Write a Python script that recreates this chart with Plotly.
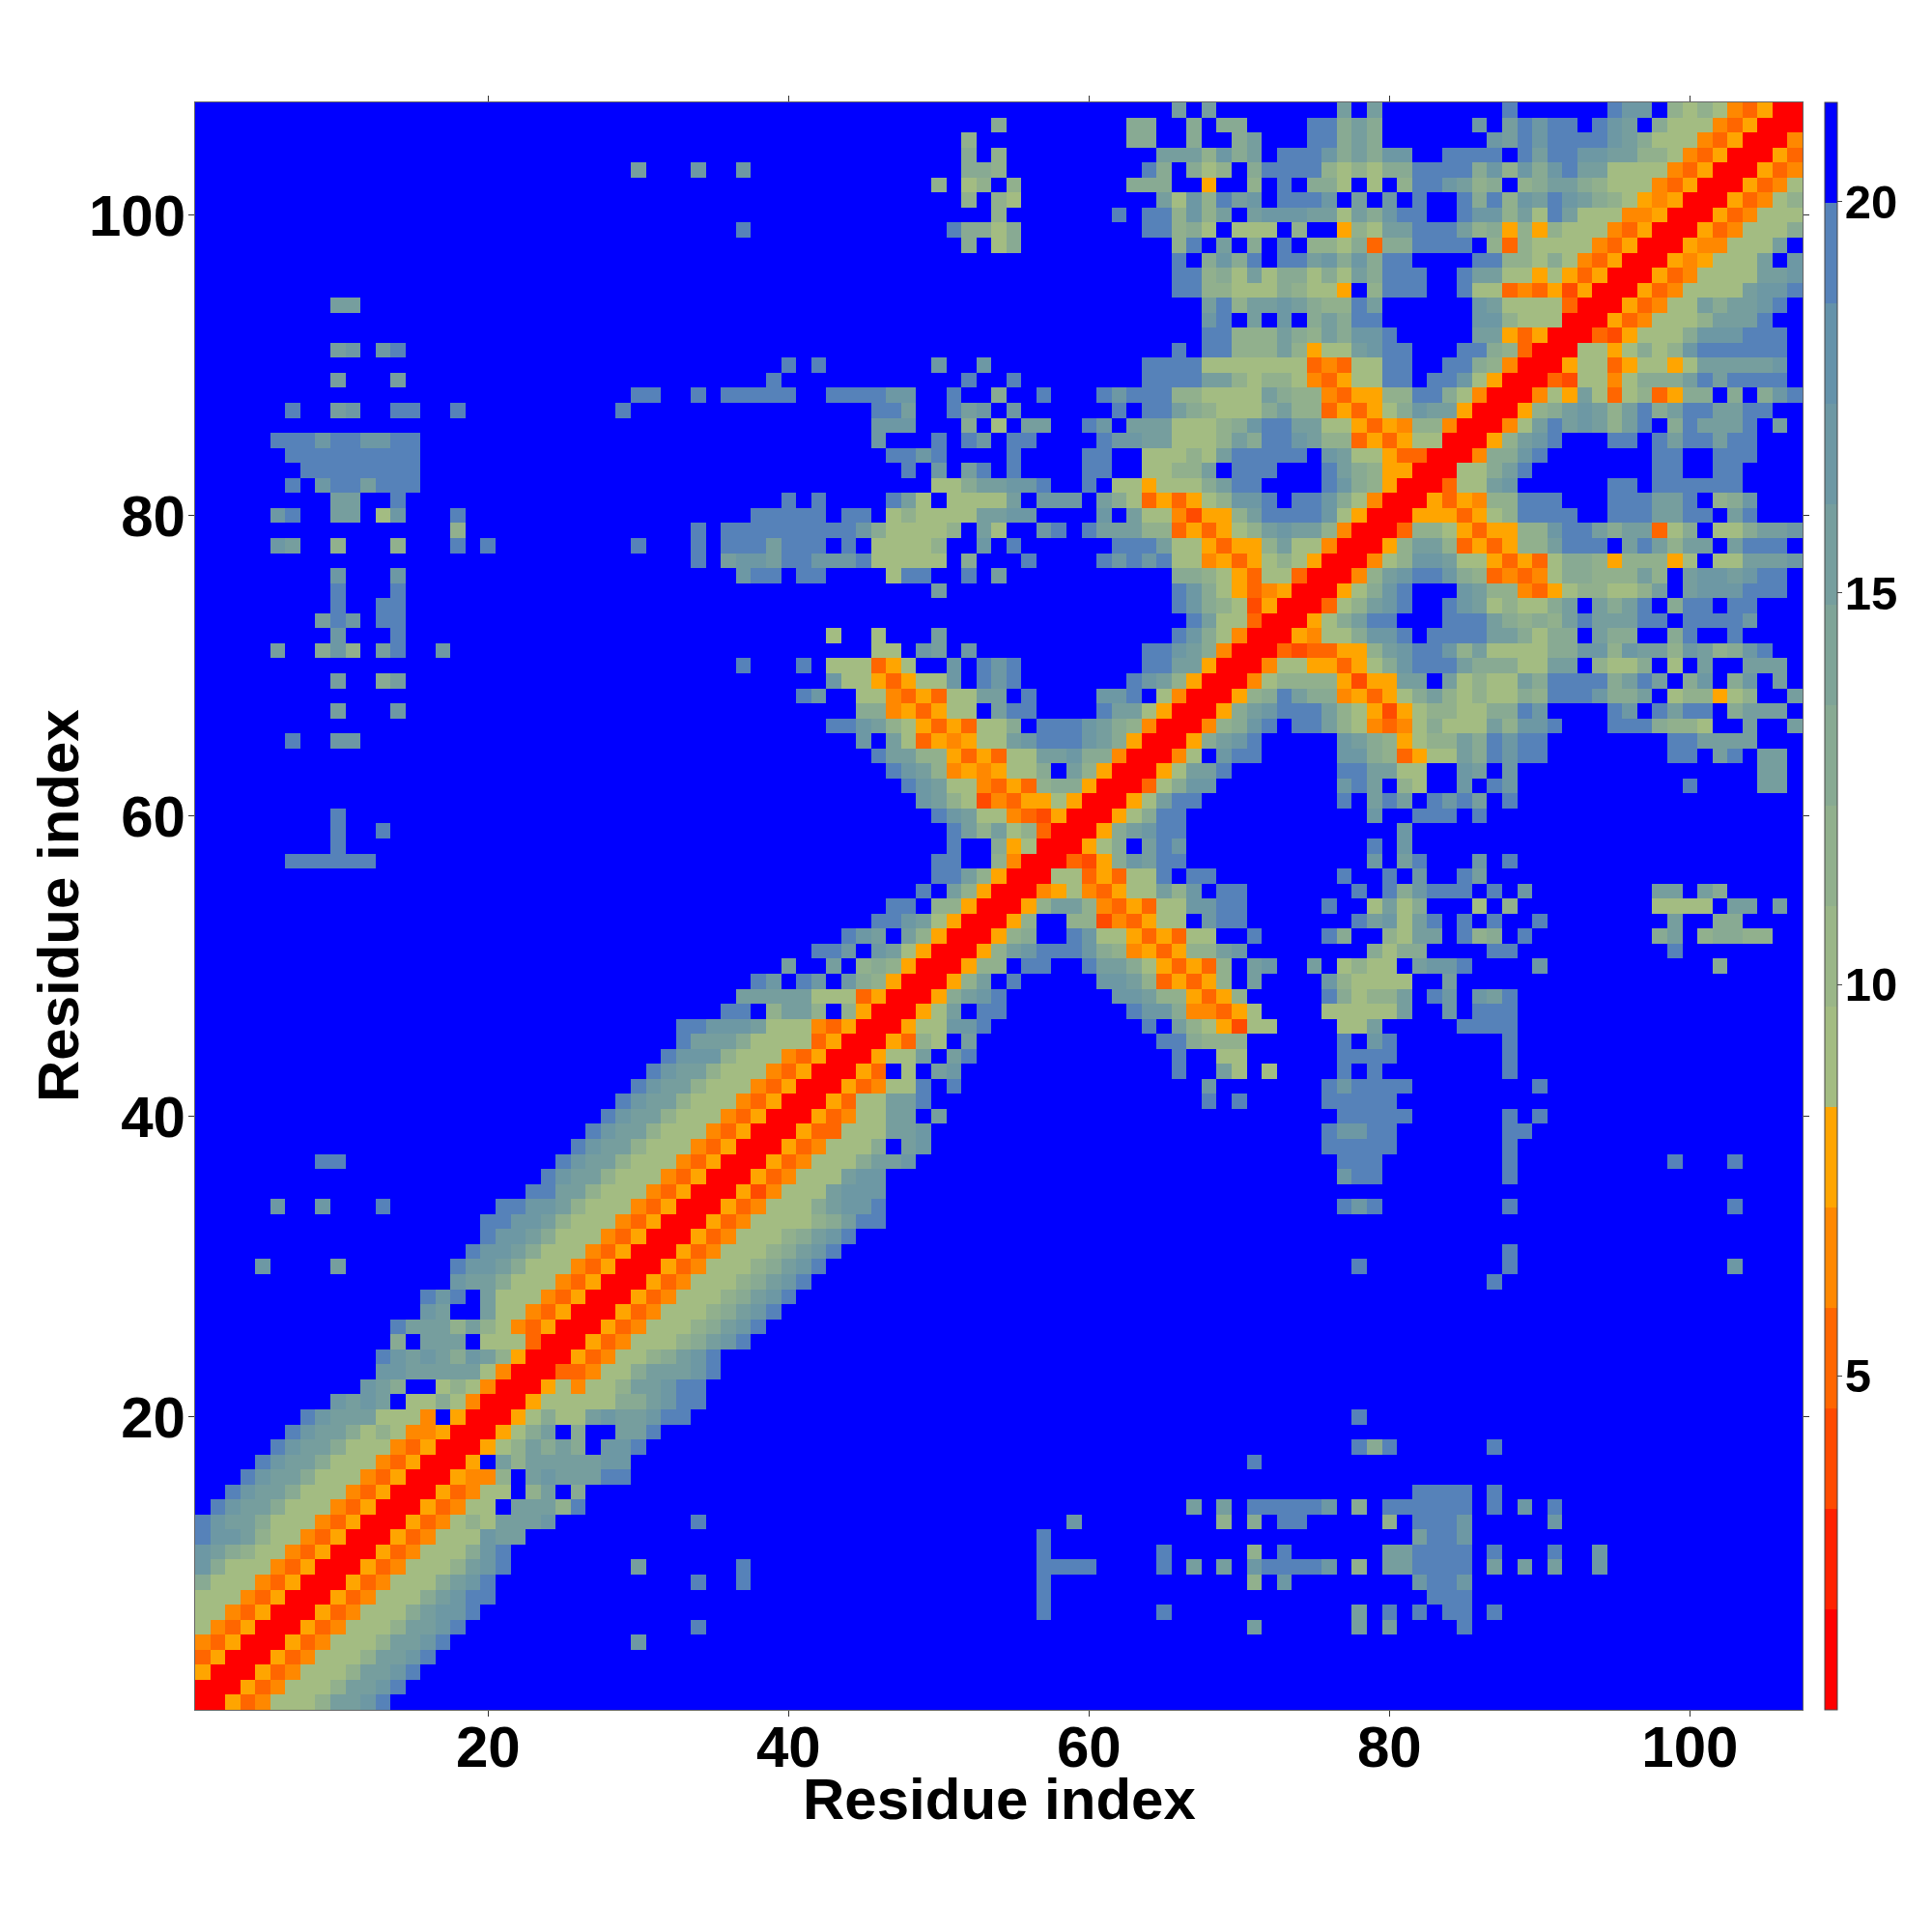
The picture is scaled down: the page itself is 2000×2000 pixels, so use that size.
import plotly.graph_objects as go

RESIDUES = list(range(1, 108))
TICKS = [20, 40, 60, 80, 100]
COLORBAR_TICKS = [5, 10, 15, 20]
# Distance read for each shade code seen in the picture ("." = the top blue band)
BAND_VALUES = {"1": 1.37, "2": 2.65, "3": 3.94, "4": 5.22, "5": 6.50, "6": 7.79, "7": 9.07, "8": 9.07,
               "9": 9.07, "a": 11.63, "b": 12.92, "c": 15.48, "d": 16.77, "e": 19.33, "f": 19.33, ".": 20.62}
BAND_COLORS = ["#FF0000", "#FF2200", "#FF4B00", "#FF6600", "#FF8800", "#FFA500", "#A3BC82", "#9AB688",
               "#91B08D", "#88AA93", "#7FA498", "#769E9E", "#6D98A4", "#6492AA", "#5682B9", "#0000FF"]

ROWS_TOP = {
107: "66:c 68:c 77:c 79:c 88:e 95:edd 99:a9a954611",
106: "54:b 63:bb 67:b 69:bb 75:eebcb 86:d 88:cedee 94:edc 98:b888546111",
105: "52:a 63:bb 67:b 70:bc 75:eebcb 87:dcedeeeedcb9885461115",
104: "52:b 54:a 65:cccadbc 73:eeedbcbdd 84:eeee 89:eceeddccaa954611164",
103: "30:c 34:d 37:d 52:bba 64:eb 67:b8a 71:bee 74:eea8a8bbeeeebdadbdecc9899546111645",
102: "50:a 52:9a 55:a 63:bbb 68:6 71:a 73:e 75:bb9 79:8 81:a 82:eedcab 89:abccba9895461116457",
101: "52:a 54:a8 65:c9daecd 73:eeed.c.d.e..ebeadcedcba96561116459a",
100: "54:a 62:e 64:eeadac 71:cd 73:ddcc8cbdee..eddac8ec988556111645888",
99: "37:e 51:ebb7b 64:eeab7 70:899 74:a 77:6a8cceeecab6a6a989546111645999b",
98: "52:b 54:7b 66:ae 69:c 71:b 73:e 75:aa9b4bbeeee.a4a9888546111655899c",
97: "66:e 68:bdbe 73:eecdbdbee 86:eeaa8b8546111656899c 107:d",
96: "66:eeab8c8bb8b9cbeee..ecc88686461116458889ccd",
95: "66:eeaa899ba886.aeee..e984546361116458989cdde",
94: "10:cc 68:ceaccdcbaaec 86:dc8888411164589cbccde",
93: "68:de.c.d.bcbee 86:dda888111645999accce",
92: "68:eeaaacbacbdde 86:cc646111436999bdddeee",
91: "10:cd 13:de 66:e 68:eeaaaca699cdee 85:eeba41119969b9adeeeeee",
90: "40:e 42:e 50:d 53:d 64:eeee998889845489ee 84:eeba5111699469969cccccd",
89: "10:c 14:c 39:e 52:e 55:e 64:eeeecca9aa854689ee 83:eed86111439959bbbceceeee",
88: "30:ee 34:e 36:eeeee 43:eeeedd 51:e 54:b 57:e 61:ede 64:eeaa9998cbaa5466aaeeb95111596c949a46bb.b.bde",
87: "7:e 10:cd 14:ee 18:e 29:e 46:eec 51:ecd 55:d 62:e 64:eecba998bcaa46469bdcc61116abcdcacebceeccee",
86: "46:ddd 52:b 54:7 56:cc 60:ed 63:ccc999abdeecc996465aa511159cecdcace.beccce.c",
85: "6:eeedeeddee 46:d 50:e 52:ed 55:ee 61:eddcc979acbeedcaa4646991116acde...ee.eceecee",
84: "7:eeeeeeeee 47:eede 55:e 60:ee 64:899a9ceeeee.dc996441115bbde 98:ee 102:eee",
83: "8:eeeeeeee 48:e 50:d 52:ce 55:e 60:ee 64:99aac 70:eee 76:ecba6611188bce 98:ee 102:ee",
82: "7:e 9:deeceee 50:98bccdde 60:e 62:886889bcee 76:edba61114 85:99cd 95:ee 98:eeeeee",
81: "10:cc 14:e 40:e 42:e 47:ec7 51:8888c 57:ddd 61:cb946469adde 74:eedb951116465aaeee 95:eeecce 102:abd",
80: "6:de 10:cc 13:8d 18:e 38:eeeee 44:ee 47:8a8889ccdd 61:d 63:c885366aceeeed96111666469aeeee 95:eeeccee 103:ce",
79: "18:a 34:e 36:eeeeeeeeedb 47:8888a.c8 57:de 60:ecccaa46469acdcca51114aa96466aadeecbcc49b.99bccd",
78: "6:dc 10:a 14:a 18:e 20:f 30:e 34:e 36:eeeceee 44:e 46:9888a 53:d 55:e 62:efec996466ac9951116acca4646aaceee.cecacc.ceee",
77: "34:e 36:cddceeddde98897 52:b 56:e 61:edede9956468a9611159addc9964649bba6aaa69.99cccd",
76: "10:d 14:d 37:dee 41:ee 47:9ee 52:e 54:c 66:bba8648941115acdeedba45459bbaaaca.cddcdee",
75: "10:e 14:e 50:c 66:edb8645611169bde 85:dcaa5469aa99ac.cdddeee",
74: "10:e 13:ee 66:edba83611149acde 84:edc9a88bc.cbce.bee.ee",
73: "9:ced 13:ee 67:ec98411168bcee 84:eeecbabacecccee.eeeed",
72: "10:d 14:e 43:7 46:7 50:c 66:edb951116589bdde 83:eeeeccb8bb.cbb..be..e",
}

ROWS_MID = {
71: "6:c 9:bda 13:ce 17:d 46:88 49:dc 52:d 64:eedcb5111434466acdeedac8988bbddadccadcabde",
70: "37:e 41:e 43:999 46:468 51:d 53:ede 64:eecc611158866469bdeeecbbb87cc.a88b.8.c..ccc",
69: "10:c 13:bc 43:d9964699d.ede 63:edca611159aaaa6366cc.c9a98cbeeeebcec.bd.bd.c",
68: "41:ed 45:98546498cc.e 61:dde.951116abecbb56469bca9a98baeeedbbc.8aa68a..c",
67: "10:c 14:d 45:bb564689.cee 61:ecc961116bcdeeeca96369aa89bbed 95:ed 98:ecee 103:bccc",
66: "43:eedca9646498b 57:eeedcba51115abde.eeca95459b999cadde 95:eeebaa9 104:c 107:c",
65: "7:e 10:dd 45:d 47:c9465699cdeeedcb61116bcde 77:dcba68aacbedee 99:eecccc",
64: "46:eccaa646499ccdbb511159.dee 77:ddba4699cbedee 99:ee 102:ce 105:cc",
63: "47:edca565699b.ca611169cce 77:eecc99 85:dc 88:d 105:cc",
62: "48:edc995464abb611149bdd 77:dec 81:a8 85:d 87:ed 100:e 105:cc",
61: "49:dca9354668611169cee 77:e 79:cec 83:edec 88:e",
60: "10:e 50:edc99543611169bee 79:d 82:eee 86:e",
59: "10:e 13:e 51:ecac9a41116bcdee 81:d",
58: "10:e 51:e 54:b69 57:111 60:69b 64:ced 79:e 81:d",
57: "7:eeeeee 50:ee 54:a5 56:111 59:436 62:bdcee 79:d 81:ce 86:d 88:e",
56: "50:eeca61119946499e.ee 77:e 80:e 82:d 85:ec",
55: "49:e.ca611156954699cad.ee 78:e 80:ebdeee 87:e 89:d 98:cc 101:cb",
54: "47:ee 50:aa6 53:111 56:6acca546488ddee 76:e 79:8c8b 86:7 88:a 98:7789 103:cc 106:c",
53: "46:eedc961116a..aa354699.dee 78:ecd9ce 85:e 87:e 90:e 99:c 102:bb",
52: "44:edc 48:ca6 51:111 54:6ab 59:ed99646499 71:e 76:eb 80:a8cc 85:eab 89:e 98:bc 101:abbaa",
51: "42:eed 46:dc96 50:111 53:6acdeeedba5646aacd 79:b8bb 87:ee 99:e",
50: "40:c 43:c 45:aba6 49:111 52:6aa 56:ee 60:eccb96464a.cd 75:c 77:8a88 82:cdde 90:d 102:b",
49: "38:ed 41:ed 44:dba6 48:111 51:6ac 55:e 61:ddca4646a.c 76:da8888 84:c",
48: "37:ccccc 42:999 45:46 47:111 50:6bcde 62:ddcaa646a 76:eb9aac 83:ed 86:dce",
47: "36:ee 39:acca 44:a6 46:111 49:69c 53:ee 63:eddb55469 76:88889c 84:d 86:eee",
46: "33:eedd 37:dc999 42:546 45:111 48:699dde 64:e 66:ca86388 77:88c 85:eeee",
45: "33:eccc 37:b9999 42:46 44:111 47:64a9 52:c 65:eebaaa 77:e 79:de 88:e",
44: "32:eddda 37:999 40:546 43:111 46:699c 51:ce 66:e 69:99 77:eeee 88:e",
43: "31:edcca9 37:99 39:546 42:111 45:64 48:9 50:cd 66:e 69:c9 72:8 77:e 79:e 88:e",
42: "30:edcca99 37:9 38:546 41:111 44:645 47:99e 51:e 68:d 76:edeeee 90:e",
41: "29:edcca999 37:5 38:46 40:111 43:6499cce 68:e 70:e 76:eeeee",
40: "28:edcca999 36:54 38:6 39:111 42:64599cc 50:c 77:eeeee 88:e 90:e",
39: "27:edcca999 35:546 38:111 41:644999ccd 76:eddee 88:ee",
38: "26:edcca999 34:546 37:111 40:645999b.cd 76:eeeee 88:e",
37: "9:ee 25:edcca999 33:546111 39:645999bccd 77:eee 88:e 99:e 103:e",
36: "24:edcca999 32:546 35:111 38:645999cdd 77:dee 88:e",
35: "23:eecca999 31:546 34:111 37:635999cddd",
}

ROWS_BOT = {
34: "6:d 9:d 13:e 21:eeddca999 30:546 33:111 36:6 37:45999bcdde 77:ede 88:e 103:e",
33: "20:eeddca999 29:546 32:111 35:64 37:59999abcee",
32: "20:eddcb999 28:546 31:111 34:645 37:999abcde",
31: "19:eddcb999 27:546 30:111 33:645 36:999abcde 88:e",
30: "5:d 10:c 18:eddcb999 26:546 29:111 32:645 35:999 38:abcde 78:e 88:e 103:d",
29: "18:dccb999 25:546 28:111 31:645 34:999 37:abcde 87:e",
28: "16:ede 20:c998 24:546 27:111 30:645 33:999abcde",
27: "16:dc 20:c99 23:546 26:111 29:645 32:999 35:abcde",
26: "14:eccc 18:aca9 22:546 25:111 28:645 31:999 34:abcde",
25: "14:b 16:ccc 20:999 23:4 24:111 27:645 30:999 33:abcde",
24: "13:edcdcbdca6 23:111 26:645 29:99abcde",
23: "13:ddccccc95 22:111 25:445 28:89bcccde",
22: "12:dcb 17:9a95 21:111 24:69599accdee",
21: "10:dcdc 15:99b95 20:111 23:699999bbcdee",
20: "8:edccc9995 18:6 19:111 22:69b99cdccdee 78:e",
19: "7:edccb9a9556 18:111 21:69bc 26:b 29:cce",
18: "6:edccb999546 17:111 20:69acbcb 28:dde 78:ebe 87:e",
17: "5:edccb999546 16:111 19:6 21:cacccccdd 71:e",
16: "4:edccb999546 15:111 18:655a 23:cdcccee",
15: "3:edccb999546 14:111 17:64599 23:ac 26:b 82:eeee 87:e",
14: "2:edccb999546 13:111 16:64599 22:cccae 67:c 69:c 71:eeeeed 78:b 80:eeeeee 87:e 89:d 91:e",
13: "1:edccb999546 12:111 15:645 18:9a9cccd 34:e 59:d 69:a 71:b 73:ee 80:a 82:eeed 91:d",
12: "1:eddca99546 11:111 14:645 17:999dcc 57:e 82:ceed",
11: "1:dcba99546 10:111 13:645 16:999bde 57:e 65:e 71:a 73:e 80:cc 82:eeee 87:e 91:e 94:d",
10: "1:db999546 9:111 12:645 15:999acde 30:c 37:e 57:eeee 65:e 67:c 69:c 71:deeeed 78:a 80:cc 82:eeee 87:c 89:c 91:c 94:d",
9: "1:b999546 8:111 11:645 14:999bcde 34:e 37:e 57:e 71:a 73:d 82:deed",
8: "1:999546 7:111 10:645 13:999bcdee 57:e 83:eee",
7: "1:99546 6:111 9:645 12:999bcdde 57:e 65:e 78:c 80:e 82:e 84:ee 87:e",
6: "1:9546 5:111 8:645 11:999accde 34:e 71:c 78:c 80:c 85:e",
5: "1:546 4:111 7:645 10:999accde 30:d",
4: "1:46 3:111 6:645 9:999accde",
3: "1:6 2:111 5:645 8:999accde",
2: "1:111 4:645 7:999accde",
1: "1:11 3:645 6:999accde",
}

z = [[BAND_VALUES["."] for _ in RESIDUES] for _ in RESIDUES]
for rows in (ROWS_TOP, ROWS_MID, ROWS_BOT):
    for residue, text in rows.items():
        for token in text.split():
            start, codes = token.split(":")
            for offset, code in enumerate(codes):
                col = int(start) + offset
                if col <= 107:
                    z[residue - 1][col - 1] = BAND_VALUES[code]

ZMIN, ZMAX = 0.73, 21.27
n = len(BAND_COLORS)
colorscale = []
for i, c in enumerate(BAND_COLORS):
    colorscale.append([i / n, c])
    colorscale.append([(i + 1) / n, c])

FONT = "Liberation Sans"
title_font = dict(family=FONT, size=60, color="black", weight="bold")
fig = go.Figure(go.Heatmap(
    x=RESIDUES, y=RESIDUES, z=z, zmin=ZMIN, zmax=ZMAX, colorscale=colorscale, zsmooth=False,
    hoverongaps=False,
    colorbar=dict(
        x=1.0138, xanchor="left", y=0.5, yanchor="middle", len=1, lenmode="fraction",
        thickness=13, thicknessmode="pixels", xpad=0, ypad=0,
        tickvals=COLORBAR_TICKS, ticks="outside", ticklen=5, tickwidth=1, tickcolor="#444",
        outlinecolor="#444", outlinewidth=1, borderwidth=0,
        tickfont=dict(family=FONT, size=49, color="black", weight="bold"),
    ),
))
axis = dict(
    tickvals=TICKS, ticks="outside", ticklen=6, tickwidth=1, tickcolor="#333",
    showline=True, linecolor="#666", linewidth=1, mirror="ticks", showgrid=False, zeroline=False,
    range=[0.5, 107.5], tickfont=dict(family=FONT, size=60, color="black", weight="bold"),
)
fig.update_layout(
    width=2000, height=2000, autosize=False,
    margin=dict(l=202, r=134, t=106, b=230, pad=0),
    paper_bgcolor="white", plot_bgcolor="white",
    xaxis=dict(axis, ticklabelstandoff=-20),
    yaxis=dict(axis, ticklabelstandoff=-9),
    annotations=[
        dict(text="Residue index", xref="paper", yref="paper", x=0.5, y=-0.0553,
             xanchor="center", yanchor="middle", showarrow=False, font=title_font),
        dict(text="Residue index", xref="paper", yref="paper", x=-0.0853, y=0.5, textangle=-90,
             xanchor="center", yanchor="middle", showarrow=False, font=title_font),
    ],
)
fig.write_html(
    "out.html",
    config={"displayModeBar": False},
    post_script="document.body.style.margin='0';"
                "document.querySelectorAll('.colorbar text').forEach(function(t){"
                "t.setAttribute('x', parseFloat(t.getAttribute('x')||0)-7);});",
)
